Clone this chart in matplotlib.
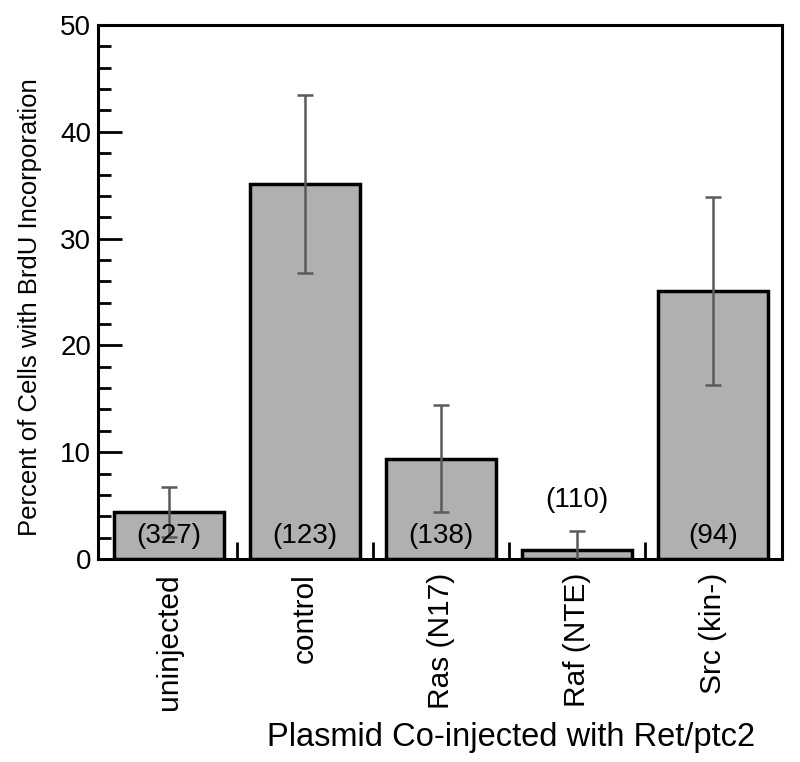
import matplotlib
matplotlib.use("Agg")
import matplotlib.pyplot as plt
import numpy as np

categories = ["uninjected", "control", "Ras (N17)", "Raf (NTE)", "Src (kin-)"]
values = [4.4, 35.1, 9.4, 0.8, 25.1]
errors = [2.35, 8.3, 5.0, 1.8, 8.8]
counts = ["(327)", "(123)", "(138)", "(110)", "(94)"]
count_y = [2.2, 2.2, 2.2, 5.5, 2.2]

plt.rcParams['font.family'] = ['Liberation Sans', 'DejaVu Sans']

fig = plt.figure(figsize=(8.0, 7.62), dpi=100)
ax = fig.add_axes([98/800, 1 - 559/762, (782-98)/800, (559-25)/762])

x = np.arange(len(categories))
ax.bar(x, values, width=0.81, color='#b0b0b0', edgecolor='black', linewidth=2.5, zorder=2)
ax.errorbar(x, values, yerr=errors, fmt='none', ecolor='#5a5a5a', elinewidth=1.8,
            capsize=6, capthick=1.8, zorder=3)

for xi, c, cy in zip(x, counts, count_y):
    ax.text(xi, cy, c, ha='center', va='center', fontsize=20, zorder=4)

ax.set_xlim(-0.52, 4.51)
ax.set_ylim(0, 50)
ax.set_yticks(np.arange(0, 51, 10))
ax.set_yticks(np.arange(0, 51, 2), minor=True)
ax.tick_params(axis='y', which='major', direction='in', length=17, width=2, labelsize=20, pad=5)
ax.tick_params(axis='y', which='minor', direction='in', length=9, width=2)

ax.set_xticks(x)
ax.set_xticklabels(categories, rotation=90, fontsize=21.5)
ax.set_xticks([0.5, 1.5, 2.5, 3.5], minor=True)
ax.tick_params(axis='x', which='major', length=0, pad=10)
ax.tick_params(axis='x', which='minor', direction='in', length=12, width=2)

for s in ax.spines.values():
    s.set_linewidth(2.2)

ax.set_ylabel("Percent of Cells with BrdU Incorporation", fontsize=18.5)
ax.yaxis.set_label_coords(-0.082, 0.472)
ax.set_xlabel("Plasmid Co-injected with Ret/ptc2", fontsize=23.5)
ax.xaxis.set_label_coords(0.604, -0.305)

fig.savefig("out.png", dpi=100)
